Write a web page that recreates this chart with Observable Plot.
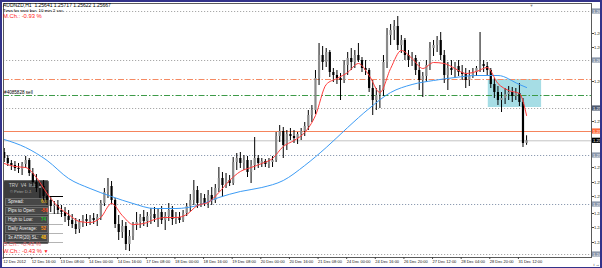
<!DOCTYPE html>
<html><head><meta charset="utf-8">
<script src="https://cdn.jsdelivr.net/npm/d3@7"></script>
<script src="https://cdn.jsdelivr.net/npm/@observablehq/plot@0.6"></script>
<style>
html,body{margin:0;padding:0;background:#fff;overflow:hidden;}
#wrap{position:relative;width:602px;height:268px;overflow:hidden;background:#fff;font-family:"Liberation Sans",Arial,sans-serif;}
#wrap > svg{position:absolute;left:0;top:0;}
.a{position:absolute;white-space:nowrap;line-height:1;}
#panel{position:absolute;left:3px;top:180px;width:46px;height:64px;box-sizing:border-box;background:#3d3d3d;border:1px solid #6c6c6c;border-radius:2px;}
.row{position:absolute;left:1px;width:43px;height:8px;box-sizing:border-box;border:1px solid #6a6a6a;background:#474747;}
.row .l{position:absolute;left:2px;top:0;line-height:6px;font-size:4.5px;color:#f0f0f0;white-space:nowrap;}
.row .v{position:absolute;left:35px;top:0;line-height:6px;font-size:4.7px;font-weight:bold;white-space:nowrap;}
.nb{position:absolute;background:#33338a;}
.sl{position:absolute;height:1px;}
</style></head>
<body><div id="wrap"></div>
<script>
// ---------------- data ----------------
const symbol = "AUDNZD,H1";
const opens = [
1.2555,1.2549,1.2544,1.2542,1.2539,1.2538,1.2543,1.2547,1.2534,1.2525,
1.2519,1.2521,1.2511,1.2507,1.2501,1.2502,1.2497,1.2495,1.2491,1.2487,
1.2483,1.2478,1.2485,1.2488,1.2486,1.2489,1.2487,1.2490,1.2504,1.2515,
1.2521,1.2507,1.2483,1.2475,1.2481,1.2463,1.2471,1.2482,1.2485,1.2490,
1.2486,1.2491,1.2493,1.2489,1.2495,1.2487,1.2491,1.2497,1.2488,1.2490,
1.2487,1.2494,1.2501,1.2507,1.2517,1.2504,1.2509,1.2504,1.2512,1.2507,
1.2519,1.2529,1.2522,1.2527,1.2524,1.2545,1.2549,1.2544,1.2547,1.2535,
1.2542,1.2549,1.2544,1.2546,1.2543,1.2545,1.2547,1.2571,1.2576,1.2562,
1.2573,1.2571,1.2569,1.2573,1.2576,1.2581,1.2592,1.2597,1.2629,1.2652,
1.2645,1.2655,1.2635,1.2632,1.2629,1.2627,1.2642,1.2649,1.2645,1.2652,
1.2647,1.2639,1.2637,1.2619,1.2607,1.2612,1.2617,1.2645,1.2672,1.2677,
1.2681,1.2662,1.2667,1.2652,1.2647,1.2649,1.2637,1.2627,1.2631,1.2642,
1.2659,1.2662,1.2667,1.2652,1.2632,1.2639,1.2637,1.2641,1.2635,1.2633,
1.2627,1.2631,1.2635,1.2639,1.2643,1.2641,1.2637,1.2623,1.2615,1.2607,
1.2609,1.2613,1.2615,1.2611,1.2614,1.2605,1.25641];
const highs = [
1.2559,1.2552,1.2547,1.2546,1.2544,1.2545,1.2551,1.2549,1.2539,1.2533,
1.2525,1.2527,1.2517,1.2510,1.2506,1.2507,1.2502,1.2500,1.2497,1.2493,
1.2489,1.2488,1.2492,1.2493,1.2492,1.2494,1.2493,1.2507,1.2519,1.2529,
1.2526,1.2509,1.2492,1.2487,1.2485,1.2477,1.2485,1.2495,1.2493,1.2497,
1.2495,1.2499,1.2500,1.2498,1.2501,1.2495,1.2504,1.2501,1.2495,1.2495,
1.2497,1.2504,1.2513,1.2527,1.2521,1.2514,1.2513,1.2517,1.2520,1.2523,
1.2540,1.2535,1.2534,1.2532,1.2550,1.2554,1.2555,1.2552,1.2551,1.2547,
1.2570,1.2552,1.2549,1.2548,1.2549,1.2551,1.2575,1.2582,1.2580,1.2577,
1.2579,1.2577,1.2575,1.2579,1.2585,1.2597,1.2602,1.2637,1.2664,1.2661,
1.2659,1.2657,1.2639,1.2637,1.2634,1.2647,1.2655,1.2659,1.2657,1.2664,
1.2650,1.2647,1.2639,1.2627,1.2619,1.2622,1.2652,1.2679,1.2683,1.2687,
1.2691,1.2672,1.2669,1.2657,1.2655,1.2652,1.2645,1.2635,1.2647,1.2665,
1.2667,1.2671,1.2675,1.2657,1.2645,1.2647,1.2645,1.2647,1.2642,1.2639,
1.2637,1.2639,1.2641,1.2675,1.2647,1.2645,1.2639,1.2629,1.2621,1.2615,
1.2619,1.2621,1.2620,1.2619,1.2624,1.2609,1.25717];
const lows = [
1.2545,1.2541,1.2537,1.2536,1.2534,1.2532,1.2539,1.2531,1.2521,1.2515,
1.2509,1.2507,1.2502,1.2495,1.2493,1.2493,1.2490,1.2485,1.2481,1.2479,
1.2473,1.2474,1.2480,1.2481,1.2482,1.2483,1.2481,1.2487,1.2501,1.2509,
1.2503,1.2479,1.2467,1.2469,1.2457,1.2456,1.2467,1.2477,1.2479,1.2481,
1.2480,1.2483,1.2485,1.2480,1.2483,1.2477,1.2486,1.2482,1.2483,1.2484,
1.2485,1.2491,1.2495,1.2502,1.2499,1.2500,1.2501,1.2499,1.2502,1.2504,
1.2515,1.2510,1.2519,1.2521,1.2522,1.2537,1.2539,1.2537,1.2530,1.2524,
1.2537,1.2539,1.2540,1.2540,1.2539,1.2540,1.2545,1.2565,1.2549,1.2557,
1.2567,1.2564,1.2563,1.2567,1.2571,1.2577,1.2585,1.2593,1.2622,1.2637,
1.2640,1.2630,1.2625,1.2623,1.2607,1.2624,1.2632,1.2637,1.2639,1.2645,
1.2635,1.2632,1.2615,1.2592,1.2597,1.2599,1.2611,1.2639,1.2662,1.2667,
1.2657,1.2654,1.2647,1.2640,1.2641,1.2632,1.2617,1.2610,1.2625,1.2637,
1.2651,1.2655,1.2647,1.2624,1.2617,1.2632,1.2629,1.2631,1.2627,1.2619,
1.2621,1.2629,1.2631,1.2635,1.2635,1.2632,1.2619,1.2609,1.2602,1.2595,
1.2603,1.2607,1.2605,1.2607,1.2601,1.2560,1.25622];
const closes = [
1.2549,1.2544,1.2542,1.2539,1.2538,1.2543,1.2547,1.2534,1.2525,1.2519,
1.2521,1.2511,1.2507,1.2501,1.2502,1.2497,1.2495,1.2491,1.2487,1.2483,
1.2478,1.2485,1.2488,1.2486,1.2489,1.2487,1.2490,1.2504,1.2515,1.2521,
1.2507,1.2483,1.2475,1.2481,1.2463,1.2471,1.2482,1.2485,1.2490,1.2486,
1.2491,1.2493,1.2489,1.2495,1.2487,1.2491,1.2497,1.2488,1.2490,1.2487,
1.2494,1.2501,1.2507,1.2517,1.2504,1.2509,1.2504,1.2512,1.2507,1.2519,
1.2529,1.2522,1.2527,1.2524,1.2545,1.2549,1.2544,1.2547,1.2535,1.2542,
1.2549,1.2544,1.2546,1.2543,1.2545,1.2547,1.2571,1.2576,1.2562,1.2573,
1.2571,1.2569,1.2573,1.2576,1.2581,1.2592,1.2597,1.2629,1.2652,1.2645,
1.2655,1.2635,1.2632,1.2629,1.2627,1.2642,1.2649,1.2645,1.2652,1.2647,
1.2639,1.2637,1.2619,1.2607,1.2612,1.2617,1.2645,1.2672,1.2677,1.2681,
1.2662,1.2667,1.2652,1.2647,1.2649,1.2637,1.2627,1.2631,1.2642,1.2659,
1.2662,1.2667,1.2652,1.2632,1.2639,1.2637,1.2641,1.2635,1.2633,1.2627,
1.2631,1.2635,1.2639,1.2643,1.2641,1.2637,1.2623,1.2615,1.2607,1.2609,
1.2613,1.2615,1.2611,1.2614,1.2605,1.2564,1.25667];

const redMaIdx = [0,3,6,9,12,15,18,21,24,27,30,33,36,39,42,45,48,51,54,57,60,63,66,69,72,75,78,81,84,87,90,93,96,99,102,105,108,111,114,117,120,123,126,129,132,135,138,141,144,146];
const redMa = [
1.2544,1.2541,1.2540,1.2530,1.2514,1.2501,1.2493,1.2486,1.2485,1.2490,
1.2504,1.2492,1.2483,1.2484,1.2488,1.2490,1.2490,1.2493,1.2502,1.2505,
1.2515,1.2527,1.2536,1.2540,1.2544,1.2549,1.2561,1.2567,1.2575,1.2592,
1.2623,1.2629,1.2635,1.2644,1.2632,1.2615,1.2639,1.2657,1.2649,1.2639,
1.2645,1.2644,1.2639,1.2634,1.2636,1.2640,1.2624,1.2617,1.2614,1.2592];
const blueMaIdx = [0,6,12,18,24,30,36,42,48,54,60,66,72,78,84,90,96,102,108,114,120,126,132,138,144,146];
const blueMa = [
1.2568,1.2560,1.2547,1.2529,1.2519,1.2511,1.2504,1.2499,1.2499,1.2502,
1.2510,1.2516,1.2520,1.2527,1.2542,1.2560,1.2580,1.2599,1.2615,1.2623,
1.2627,1.2630,1.2632,1.2632,1.2623,1.2620];

const xTickIdx = [0,8,16,24,32,40,48,56,64,72,80,88,96,104,112,120,128,136,144];
const xTickLabels = ["12 Dec 2012","12 Dec 16:00","13 Dec 08:00","14 Dec 00:00","14 Dec 16:00","17 Dec 08:00","18 Dec 00:00","18 Dec 16:00","19 Dec 08:00","20 Dec 00:00","20 Dec 16:00","21 Dec 08:00","24 Dec 00:00","24 Dec 16:00","26 Dec 20:00","27 Dec 12:00","28 Dec 04:00","28 Dec 20:00","31 Dec 12:00"];
const yTickVals = [1.2674,1.2660,1.2626,1.2586,1.2540,1.2525,1.2511,1.2494,1.2480,1.2465];

const levelPrices = [1.2696,1.2647,1.2628,1.2612,1.2599,1.2576,1.25667,1.2552,1.2503,1.2453];
const levelKinds  = ["dot","dot","orangeDD","greenDD","dotDark","orange","bid","dotBlue","dotBlue","dot"];
const zoneIdx = [135.3,150.2];
const zonePrice = [1.2600,1.2628];
const orderLabel = "#4085828 sell";
const orderPrice = 1.2612;
const shiftIdx = [147.4];

const timeInfo = "Time for next bar: 10 min 2 sec";
const mChange = "M.Ch.: -0.93 %";
const dChange = "D.Ch.: -0.43 %";
const wChange = "W.Ch.: -0.43 %";
const panelTitle = "TRV  V4  Info";
const panelAuthor = "\u00a9 Peter D.J.";
const panelLabels = ["Spread:","Pips to Open:","High to Low:","Daily Average:","3x ATR(20) SL:"];
const panelValues = ["6.0","-56","74","52","48"];

// ---------------- build ----------------
const candles = opens.map((o,i)=>({i, open:o, high:highs[i], low:lows[i], close:closes[i]}));
const red = redMaIdx.map((i,k)=>({i, v:redMa[k]}));
const blue = blueMaIdx.map((i,k)=>({i, v:blueMa[k]}));
const levelStyle = {
  dot:{stroke:"#a9a9a9",dash:"1.2,1.8",box:"#8c98ab"},
  dotDark:{stroke:"#a9a9a9",dash:"1.2,1.8",box:"#4e5a70"},
  dotBlue:{stroke:"#8e9cb2",dash:"1.2,1.8",box:"#8c98ab"},
  orangeDD:{stroke:"#f58a63",dash:"6,2,1.5,2",box:null},
  greenDD:{stroke:"#3d9a48",dash:"6,2,1.5,2",box:null},
  orange:{stroke:"#f5845c",dash:null,box:"#ff6a3a"},
  bid:{stroke:"#c4c4c4",dash:null,box:"#000000"}
};
const levels = levelPrices.map((p,k)=>({price:p, ...levelStyle[levelKinds[k]]}));
const boxes = levels.filter(l=>l.box);

const xDomain = [-0.2,164.15], yDomain = [1.2450,1.2704];
const boxX1 = xDomain[1]+0.28, boxX2 = xDomain[1]+2.6, boxH = 0.00026;
const FONT = "'Liberation Sans', Arial, sans-serif";
const base = {width:602,height:268,marginLeft:3,marginRight:11,marginTop:3,marginBottom:11,
  x:{type:"linear",domain:xDomain,axis:null}, y:{type:"linear",domain:yDomain,axis:null},
  style:{background:"transparent",overflow:"visible",fontFamily:FONT}};

const wrap = document.getElementById("wrap");

// layer A: zone + horizontal levels
const plotA = Plot.plot({...base, marks:[
  Plot.rect([{x1:zoneIdx[0],x2:zoneIdx[1],y1:zonePrice[0],y2:zonePrice[1]}],{x1:"x1",x2:"x2",y1:"y1",y2:"y2",fill:"#a6dde5"}),
  ...levels.map(l=>Plot.ruleY([l.price],{stroke:l.stroke,strokeWidth:1,strokeDasharray:l.dash||null}))
]});
wrap.appendChild(plotA);

// panel (HTML, behind candles)
const panel = document.createElement("div");
panel.id = "panel";
let ph = `<div class="a" style="left:5px;top:3.3px;font-size:4.6px;color:#cfcfcf">${panelTitle.replace(/ /g,"&nbsp;")}</div>`+
         `<div class="a" style="left:6px;top:8.6px;font-size:4px;color:#a8a8a8">${panelAuthor}</div>`;
const vColors = ["#e0b020","#ff4a1a","#22c02a","#ff8c1a","#ffc21a"];
const rowTops = [17,26,35,44,52.5];
panelLabels.forEach((lab,k)=>{
  ph += `<div class="row" style="top:${rowTops[k]}px"><span class="l">${lab}</span><span class="v" style="color:${vColors[k]}">${panelValues[k]}</span></div>`;
});
panel.innerHTML = ph;
wrap.appendChild(panel);
[[196,"#000"],[213,"#b4b4b4"],[224,"#b4b4b4"],[233,"#b4b4b4"],[242,"#b4b4b4"]].forEach(([t,c])=>{
  const d=document.createElement("div"); d.className="sl";
  d.style.cssText=`left:49px;top:${t}px;width:14px;background:${c};`; wrap.appendChild(d);
});

// layer B: candles, MAs, axes, labels
const bull = candles.filter(d=>d.close>=d.open), bear = candles.filter(d=>d.close<d.open);
const plotB = Plot.plot({...base, marks:[
  Plot.ruleX(candles,{x:"i",y1:"low",y2:"high",stroke:"#000",strokeWidth:1}),
  Plot.ruleX(bull,{x:"i",y1:"open",y2:"close",stroke:"#8a8a8a",strokeWidth:2.2}),
  Plot.ruleX(bear,{x:"i",y1:"open",y2:"close",stroke:"#000",strokeWidth:2.2}),
  Plot.line(blue,{x:"i",y:"v",stroke:"#3d9cf5",strokeWidth:1,curve:"monotone-x"}),
  Plot.line(red,{x:"i",y:"v",stroke:"#ff3b3b",strokeWidth:1,curve:"monotone-x"}),
  Plot.frame({stroke:"#5a5a5a"}),
  Plot.axisX({anchor:"bottom",ticks:xTickIdx,tickFormat:d=>xTickLabels[xTickIdx.indexOf(d)],tickSize:2,tickPadding:0.5,textAnchor:"start",dx:-1,fontSize:4,stroke:"#444",fill:"#111"}),
  Plot.axisY({anchor:"right",ticks:yTickVals,tickFormat:d=>d.toFixed(5),tickSize:2,tickPadding:0.5,fontSize:4,stroke:"#444",fill:"#222"}),
  ...boxes.map(b=>Plot.rect([b],{x1:()=>boxX1,x2:()=>boxX2,y1:d=>d.price-boxH,y2:d=>d.price+boxH,fill:b.box})),
  Plot.text(boxes,{x:()=>boxX1,y:"price",text:d=>d.price.toFixed(5),fill:"#fff",fontSize:4,textAnchor:"start",dx:0.6}),
  Plot.text([orderPrice],{y:d=>d,frameAnchor:"left",text:()=>orderLabel,textAnchor:"start",dx:0.6,dy:-2.6,fontSize:4.6,fill:"#000"}),
  Plot.text(shiftIdx,{x:d=>d,frameAnchor:"top",text:()=>"\u25BC",fontSize:4,fill:"#8a8a8a",dy:1})
]});
wrap.appendChild(plotB);

// overlay texts
const last = candles[candles.length-1];
const f5 = v=>v.toFixed(5);
function addText(txt, css){ const d=document.createElement("div"); d.className="a"; d.style.cssText=css; d.innerHTML=txt; wrap.appendChild(d); }
addText(`${symbol}&nbsp;&nbsp;${f5(last.open)} ${f5(last.high)} ${f5(last.low)} ${f5(last.close)}`,"left:3px;top:2.6px;font-size:5px;color:#000;");
addText(timeInfo,"left:3px;top:8.8px;font-size:4.4px;color:#000;");
addText(mChange,"left:3px;top:13.9px;font-size:5.8px;color:#ff2020;");
addText(dChange,"left:3px;top:242.4px;font-size:5.8px;color:#ee6a6a;");
addText(wChange+"&nbsp;<span style='font-size:5px'>\u25BC</span>","left:3px;top:249.4px;font-size:5.8px;color:#ff2020;");

// window border
[["left:0;top:0;width:2px;height:268px"],["left:0;top:0;width:602px;height:2px"],["left:600px;top:0;width:2px;height:268px"],["left:0;top:266.5px;width:602px;height:1.5px"]].forEach(([c])=>{
  const d=document.createElement("div"); d.className="nb"; d.style.cssText=c; wrap.appendChild(d);
});
</script></body></html>
